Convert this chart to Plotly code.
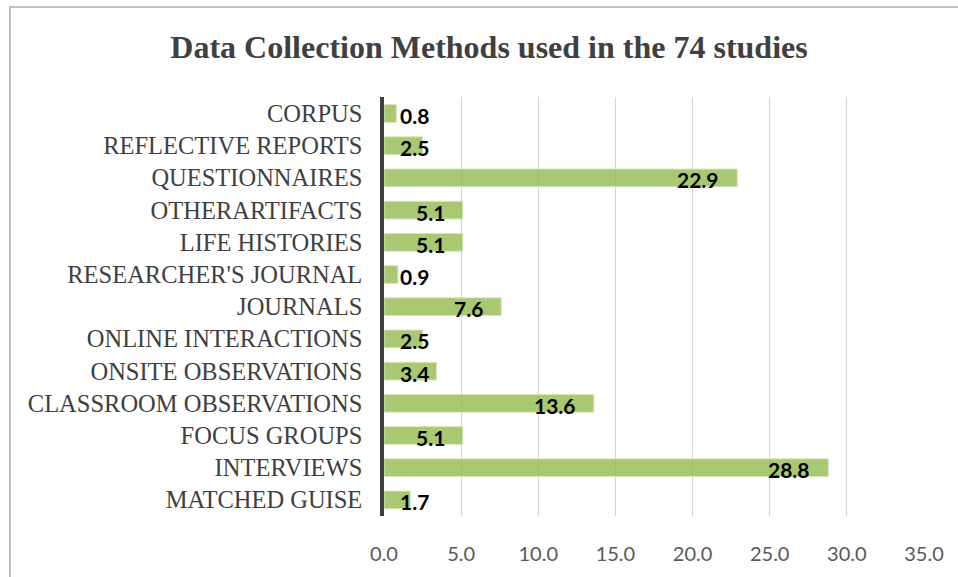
import plotly.graph_objects as go

categories = ["CORPUS", "REFLECTIVE REPORTS", "QUESTIONNAIRES", "OTHERARTIFACTS",
              "LIFE HISTORIES", "RESEARCHER'S JOURNAL", "JOURNALS", "ONLINE INTERACTIONS",
              "ONSITE OBSERVATIONS", "CLASSROOM OBSERVATIONS", "FOCUS GROUPS",
              "INTERVIEWS", "MATCHED GUISE"]
values = [0.8, 2.5, 22.9, 5.1, 5.1, 0.9, 7.6, 2.5, 3.4, 13.6, 5.1, 28.8, 1.7]
x_ticks = [0, 5, 10, 15, 20, 25, 30, 35]
x_tick_labels = ["0.0", "5.0", "10.0", "15.0", "20.0", "25.0", "30.0", "35.0"]

W, H = 958, 577
ml, mr, mt, mb = 384, 34, 97, 56
pw, ph = W - ml - mr, H - mt - mb

fig = go.Figure()
fig.add_trace(go.Bar(
    y=categories, x=values, orientation="h",
    marker=dict(color="rgba(146,186,79,0.8)",
                line=dict(color="rgba(214,230,188,1)", width=1)),
    hoverinfo="x+y",
))

annotations = []
for c, v in zip(categories, values):
    if v >= 4:
        annotations.append(dict(x=v, y=c, xref="x", yref="y", text=f"{v:.1f}",
                                showarrow=False, xanchor="right", xshift=-16, yshift=-2,
                                font=dict(family="Lato", size=21, color="#000000", weight="bold")))
    else:
        annotations.append(dict(x=0, y=c, xref="x", yref="y", text=f"{v:.1f}",
                                showarrow=False, xanchor="left", xshift=14, yshift=-2,
                                font=dict(family="Lato", size=21, color="#000000", weight="bold")))

fig.update_layout(
    width=W, height=H,
    margin=dict(l=ml, r=mr, t=mt, b=mb, pad=0),
    paper_bgcolor="white", plot_bgcolor="white",
    bargap=0.45,
    showlegend=False,
    title=dict(text="<b>Data Collection Methods used in the 74 studies</b>",
               x=489 / W, xref="container", xanchor="center",
               y=1 - 47 / H, yref="container", yanchor="middle",
               font=dict(family="Liberation Serif", size=32, color="#404040")),
    xaxis=dict(range=[0, 35], tickvals=x_ticks, ticktext=x_tick_labels,
               showgrid=True, gridcolor="#d4d4d4", gridwidth=1,
               zeroline=False, showline=False,
               ticks="outside", ticklen=0, ticklabelstandoff=20,
               tickfont=dict(family="Lato", size=20, color="#595959")),
    yaxis=dict(autorange="reversed", showgrid=False, zeroline=False,
               showline=True, linecolor="#404040", linewidth=3.5,
               ticks="outside", ticklen=0, ticklabelstandoff=13,
               tickfont=dict(family="Liberation Serif", size=24.5, color="#404040")),
    annotations=annotations,
    shapes=[dict(type="rect", xref="paper", yref="paper",
                 x0=(10 - ml) / pw, x1=(W + 20 - ml) / pw,
                 y0=-(mb + 20) / ph, y1=(H - 6 - mb) / ph,
                 line=dict(color="#c0c0c0", width=2), fillcolor="rgba(0,0,0,0)",
                 layer="below")],
)

fig.write_html("out.html")
